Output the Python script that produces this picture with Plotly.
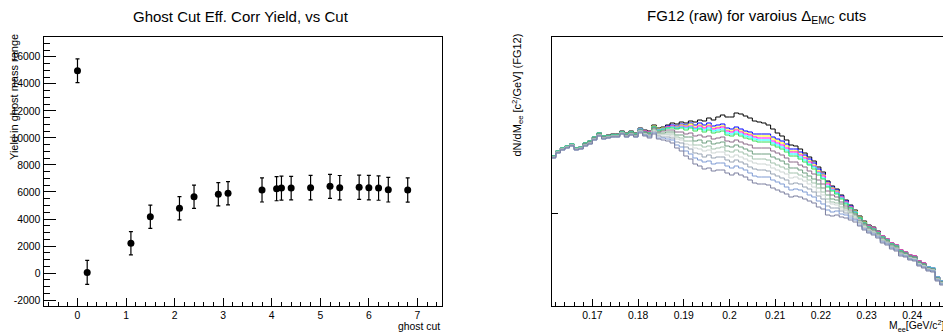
import plotly.graph_objects as go

W, H = 951, 335          # browser window
OFF = 8                  # default page margin of the html body
FW, FH = W - OFF, H - OFF
FONT = "Liberation Sans, Arial, Helvetica, sans-serif"

# ---------------- Left panel: yield vs ghost cut ----------------
ghost_cut = [0.0, 0.2, 1.1, 1.5, 2.1, 2.4, 2.9, 3.1, 3.8, 4.1, 4.2, 4.4, 4.8, 5.2, 5.4, 5.8, 6.0, 6.2, 6.4, 6.8]
yield_vals = [14970, 50, 2200, 4170, 4790, 5650, 5830, 5900, 6150, 6240, 6290, 6290, 6320, 6420, 6320, 6350, 6320, 6290, 6170, 6150]
yield_err = [880, 890, 860, 860, 860, 860, 860, 860, 890, 890, 890, 870, 910, 890, 900, 890, 910, 900, 910, 900]

left_yticks = [-2000, 0, 2000, 4000, 6000, 8000, 10000, 12000, 14000, 16000]
left_ytext = ["-2000", "0", "2000", "4000", "6000", "8000", "10000", "12000", "14000", "16000"]
left_xticks = [0, 1, 2, 3, 4, 5, 6, 7]
left_xtext = ["0", "1", "2", "3", "4", "5", "6", "7"]

# ---------------- Right panel: FG12 histograms (arb. units) ----------------
mee_edges = [round(0.161 + 0.001 * i, 3) for i in range(89)]
mee_ticks = [0.17, 0.18, 0.19, 0.20, 0.21, 0.22, 0.23, 0.24]
mee_text = ["0.17", "0.18", "0.19", "0.2", "0.21", "0.22", "0.23", "0.24"]

fg_black = [150,155,158,160,162,158,159,163,165,169, 173,170,171,172,172,175,173,175,173,178,
            176,175,181,178,179,181,183,182,184,183, 185,184,186,185,188,186,189,191,189,189,
            193,192,190,188,185,184,183,181,177,173, 170,166,161,160,157,153,149,145,139,134,
            125,120,117,111,106,101,96,90,85,81, 79,75,70,67,63,61,56,54,51,50,
            45,43,39,38,29,25,39,43]
fg_blue = [150,155,158,160,162,158,159,163,165,169, 173,170,170,171,171,174,172,174,172,177,
           175,174,180,177,178,180,181,180,182,181, 183,181,183,181,183,180,181,182,178,177,
           179,177,175,174,172,172,172,172,169,167, 165,162,157,157,154,151,147,143,137,132,
           124,119,116,110,105,100,95,89,84,80, 78,74,70,67,63,61,56,54,51,50,
           45,43,39,38,29,25,39,43]
fg_yellow = [150,155,158,160,162,158,159,163,165,169, 173,170,170,171,171,174,172,174,172,177,
             175,174,180,177,178,179,180,179,181,180, 182,179,181,179,181,178,179,180,176,175,
             177,175,173,172,170,170,170,170,167,165, 163,160,155,155,152,149,145,141,135,131,
             123,118,115,109,104,99,95,89,84,80, 78,74,70,67,63,61,56,54,51,50,
             45,43,39,38,29,25,39,43]
fg_magenta = [150,155,158,160,162,158,159,163,165,169, 173,170,170,171,171,174,172,174,172,177,
              175,174,179,176,177,179,180,178,180,179, 180,178,180,178,180,177,178,179,175,174,
              176,174,172,171,169,168,168,168,165,163, 161,158,154,154,151,148,144,140,134,130,
              122,117,114,109,104,99,94,88,83,80, 78,74,70,67,63,61,56,54,51,50,
              45,43,39,38,29,25,39,43]
fg_cyan = [150,155,158,160,162,158,159,163,165,169, 173,170,170,171,171,174,172,174,172,177,
           174,173,179,176,177,178,179,178,179,178, 179,177,178,176,178,175,176,177,173,172,
           174,172,170,169,167,166,166,166,163,161, 159,156,152,152,149,146,142,139,133,128,
           120,116,113,108,103,98,94,88,83,79, 77,73,69,66,62,60,55,53,50,49,
           44,42,39,38,29,25,39,43]
fg_green = [150,155,158,160,162,158,159,163,165,169, 173,170,170,171,171,174,172,174,172,176,
            174,173,179,175,176,178,178,177,178,176, 178,175,177,174,176,173,174,175,171,170,
            172,170,168,167,165,164,164,164,161,159, 157,154,150,150,147,144,141,137,131,127,
            119,115,112,107,102,98,93,88,83,79, 77,73,69,66,62,60,55,53,50,49,
            44,42,38,37,28,24,38,42]
fg_purple = [149,154,157,159,161,157,158,162,164,168, 172,169,169,170,170,173,171,173,171,176,
             174,172,178,174,175,176,176,174,174,172, 173,170,171,169,170,167,168,169,165,164,
             166,164,162,161,158,158,158,158,155,153, 151,148,144,144,141,139,135,132,126,122,
             115,111,109,104,100,96,92,86,82,78, 76,72,68,65,61,59,54,53,50,49,
             44,42,38,37,28,24,38,42]
fg_graygreen1 = [149,154,157,159,161,157,158,162,164,168, 172,169,169,170,170,173,171,173,171,175,
                 173,172,177,173,173,174,174,171,171,169, 169,165,166,163,165,162,163,164,160,159,
                 161,159,157,155,152,152,152,152,149,147, 145,142,138,138,136,133,130,127,122,118,
                 111,107,106,102,98,94,91,85,81,77, 75,72,67,65,61,59,54,52,49,48,
                 43,41,37,36,27,23,37,41]
fg_graygreen2 = [149,154,157,159,161,157,158,161,163,167, 171,168,169,170,170,173,170,172,170,175,
                 172,171,176,172,172,172,172,169,168,165, 165,161,161,159,160,157,158,159,155,154,
                 156,154,152,150,147,147,147,146,143,141, 139,137,133,133,131,129,126,123,118,114,
                 107,104,103,99,96,93,89,84,80,76, 74,71,66,64,60,58,53,51,48,47,
                 42,40,37,36,27,23,37,41]
fg_lightgray = [149,154,157,159,161,157,158,161,163,167, 171,168,169,170,170,173,170,172,170,175,
                172,170,175,171,171,171,170,167,166,162, 161,158,157,155,156,153,154,154,151,149,
                151,149,147,145,143,142,142,141,138,136, 134,132,128,129,127,125,122,119,114,111,
                104,102,101,97,95,92,88,84,79,76, 74,70,66,63,59,57,52,51,48,47,
                42,40,37,36,27,23,37,41]
fg_grayblue1 = [149,154,157,159,161,157,158,161,163,167, 171,168,169,170,170,173,170,172,170,174,
                171,170,174,170,169,169,168,164,163,159, 157,153,152,149,151,148,149,149,146,144,
                146,144,142,139,137,136,136,135,132,130, 128,126,122,123,122,119,117,114,110,107,
                100,98,98,95,93,90,87,83,78,75, 73,70,65,63,59,57,52,50,47,46,
                41,39,36,35,26,22,36,40]
fg_grayblue2 = [148,153,156,158,160,156,157,160,162,166, 170,167,168,169,169,172,169,171,169,174,
                171,169,173,168,168,167,166,161,159,155, 152,148,146,144,145,142,143,143,140,138,
                140,138,136,133,130,129,129,129,126,124, 122,119,116,117,116,114,111,109,105,102,
                96,94,95,92,91,88,86,81,77,74, 72,69,64,62,58,56,51,50,47,46,
                41,39,36,35,26,22,36,40]
fg_bottom = [148,153,156,158,160,156,157,160,162,166, 170,167,168,169,169,172,169,171,169,173,
             170,168,172,167,166,165,163,158,155,150, 147,142,140,137,138,135,136,136,133,131,
             133,131,129,126,123,122,122,121,118,116, 114,112,109,110,109,107,105,103,99,97,
             91,90,91,89,88,86,84,80,76,73, 71,68,63,61,57,55,50,49,46,45,
             40,38,35,34,25,21,35,39]

hist_series = [
    (fg_black, "#000000"),
    (fg_blue, "#0000ff"),
    (fg_yellow, "#ffff00"),
    (fg_magenta, "#ff00ff"),
    (fg_cyan, "#00ffff"),
    (fg_green, "#33dd55"),
    (fg_purple, "#8a6a88"),
    (fg_graygreen1, "#6f9f80"),
    (fg_graygreen2, "#a3c2ad"),
    (fg_lightgray, "#cdd5d3"),
    (fg_grayblue1, "#97a3b3"),
    (fg_grayblue2, "#7f9bd3"),
    (fg_bottom, "#7b7f9f"),
]


def px(x):
    return (x - OFF) / FW


def py(y):
    return 1 - (y - OFF) / FH


fig = go.Figure()

fig.add_trace(go.Scatter(
    x=ghost_cut, y=yield_vals, mode="markers",
    marker=dict(color="black", size=7, symbol="circle"),
    error_y=dict(type="data", array=yield_err, visible=True, color="black", thickness=1.2, width=2),
    xaxis="x", yaxis="y", showlegend=False,
))

for vals, col in hist_series:
    fig.add_trace(go.Scatter(
        x=mee_edges, y=vals + [vals[-1]], mode="lines",
        line=dict(color=col, width=1, shape="hv"),
        xaxis="x2", yaxis="y2", showlegend=False,
    ))

axis_common = dict(showline=True, mirror=True, linecolor="black", linewidth=1,
                   showgrid=False, zeroline=False, ticks="inside", tickcolor="black",
                   tickwidth=1, tickfont=dict(family=FONT, size=10.4, color="black"))

Y0 = py(305.7)
Y1 = py(36.7)

fig.update_layout(
    width=FW, height=FH, margin=dict(l=0, r=0, t=0, b=0),
    paper_bgcolor="white", plot_bgcolor="white",
    xaxis=dict(domain=[px(43.5), px(441.7)], range=[-0.7, 7.5], tickmode="array",
               tickvals=left_xticks, ticktext=left_xtext, ticklen=8,
               minor=dict(ticks="inside", ticklen=4, tickmode="linear", tick0=0, dtick=0.2,
                          tickcolor="black", showgrid=False),
               anchor="y", **axis_common),
    yaxis=dict(domain=[Y0, Y1], range=[-2413, 17488], tickmode="array",
               tickvals=left_yticks, ticktext=left_ytext, ticklen=12,
               minor=dict(ticks="inside", ticklen=6, tickmode="linear", tick0=0, dtick=500,
                          tickcolor="black", showgrid=False),
               anchor="x", **axis_common),
    xaxis2=dict(domain=[px(551.7), px(949.3)], range=[0.1611, 0.2481], tickmode="array",
                tickvals=mee_ticks, ticktext=mee_text, ticklen=7,
                minor=dict(ticks="inside", ticklen=3.5, tickmode="linear", tick0=0.16, dtick=0.002,
                           tickcolor="black", showgrid=False),
                anchor="y2", **axis_common),
    yaxis2=dict(domain=[Y0, Y1], range=[0.3, 269.3], tickmode="array",
                tickvals=[92.7], ticklen=6, showticklabels=False,
                anchor="x2", **axis_common),
)


def ann(text, x, y, size, xanchor="center", yanchor="middle", angle=0):
    fig.add_annotation(text=text, x=px(x), y=py(y), xref="paper", yref="paper",
                       xanchor=xanchor, yanchor=yanchor, textangle=angle, showarrow=False,
                       borderpad=0, font=dict(family=FONT, size=size, color="black"))


ann("Ghost Cut Eff. Corr Yield, vs Cut", 241, 16, 15)
ann("FG12 (raw) for varoius Δ<sub>EMC</sub> cuts", 756, 16, 15)
ann("Yield in ghost mass range", 14, 33, 11, yanchor="top", angle=-90)
ann("dN/dM<sub>ee</sub> [c<sup>2</sup>/GeV] (FG12)", 517, 33, 11, yanchor="top", angle=-90)
ann("ghost cut", 441, 326, 10.4, xanchor="right")
ann("M<sub>ee</sub>[GeV/c<sup>2</sup>]", 946, 326, 10.4, xanchor="right")

fig.write_html("out.html")
